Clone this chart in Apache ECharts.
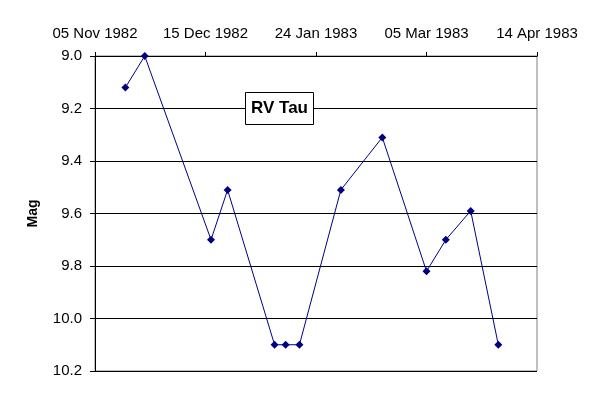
<!DOCTYPE html>
<html>
<head>
<meta charset="utf-8">
<script src="https://cdn.jsdelivr.net/npm/echarts@6/dist/echarts.min.js"></script>
<style>html,body{margin:0;padding:0;background:#fff;}#c{width:600px;height:400px;}</style>
</head>
<body>
<div id="c"></div>
<script>
const baseDate = '1982-11-05';
const obsDates = ['1982-11-16','1982-11-23','1982-12-17','1982-12-23','1983-01-09','1983-01-13','1983-01-18','1983-02-02','1983-02-17','1983-03-05','1983-03-12','1983-03-21','1983-03-31'];
const magnitudes = [9.12, 9.0, 9.7, 9.51, 10.1, 10.1, 10.1, 9.51, 9.31, 9.82, 9.7, 9.59, 10.1];
const xTickStepDays = 40;
const xMaxDays = 160;
const yTicks = [9.0, 9.2, 9.4, 9.6, 9.8, 10.0, 10.2];
const chartTitle = 'RV Tau';
const yName = 'Mag';

const DAY = 86400000;
const base = Date.parse(baseDate + 'T00:00:00Z');
const months = ['Jan','Feb','Mar','Apr','May','Jun','Jul','Aug','Sep','Oct','Nov','Dec'];
function fmt(days){
  const d = new Date(base + Math.round(days) * DAY);
  const dd = String(d.getUTCDate()).padStart(2,'0');
  return dd + ' ' + months[d.getUTCMonth()] + ' ' + d.getUTCFullYear();
}
const data = obsDates.map((s,i)=>[(Date.parse(s+'T00:00:00Z')-base)/DAY, magnitudes[i]]);
const font = 'Arial, "Liberation Sans", sans-serif';

const chart = echarts.init(document.getElementById('c'), null, {renderer:'canvas'});
chart.setOption({
  animation:false,
  backgroundColor:'#fff',
  title:{
    text: chartTitle,
    left: 245, top: 92,
    padding:[8,6,8,6],
    borderColor:'#000', borderWidth:1,
    backgroundColor:'#fff',
    textStyle:{fontFamily:font, fontSize:17, fontWeight:'bold', color:'#000'},
    z: 10
  },
  grid:{left:95, right:63, top:56, bottom:29, show:true, borderColor:'#808080', borderWidth:1, backgroundColor:'#fff'},
  xAxis:{
    type:'value', position:'top',
    min:0, max:xMaxDays, interval:xTickStepDays,
    axisLine:{show:true, lineStyle:{color:'#000', width:1}},
    axisTick:{show:true, length:4, lineStyle:{color:'#000'}},
    axisLabel:{formatter:v=>fmt(v), fontFamily:font, fontSize:15, color:'#000', margin:15},
    splitLine:{show:false}
  },
  yAxis:{
    type:'value', inverse:true,
    min:yTicks[0], max:yTicks[yTicks.length-1], interval:0.2,
    name: yName, nameLocation:'middle', nameRotate:90, nameGap:55,
    nameTextStyle:{fontFamily:font, fontSize:14, fontWeight:'bold', color:'#000'},
    axisLine:{show:true, lineStyle:{color:'#000', width:1}},
    axisTick:{show:true, length:5, lineStyle:{color:'#000'}},
    axisLabel:{formatter:v=>v.toFixed(1), fontFamily:font, fontSize:15, color:'#000', margin:13},
    splitLine:{show:true, lineStyle:{color:'#000', width:1}}
  },
  series:[{
    type:'line', data:data,
    symbol:'diamond', symbolSize:8,
    lineStyle:{color:'#000080', width:1},
    itemStyle:{color:'#000080'},
    showAllSymbol:true
  }]
});
</script>
</body>
</html>
